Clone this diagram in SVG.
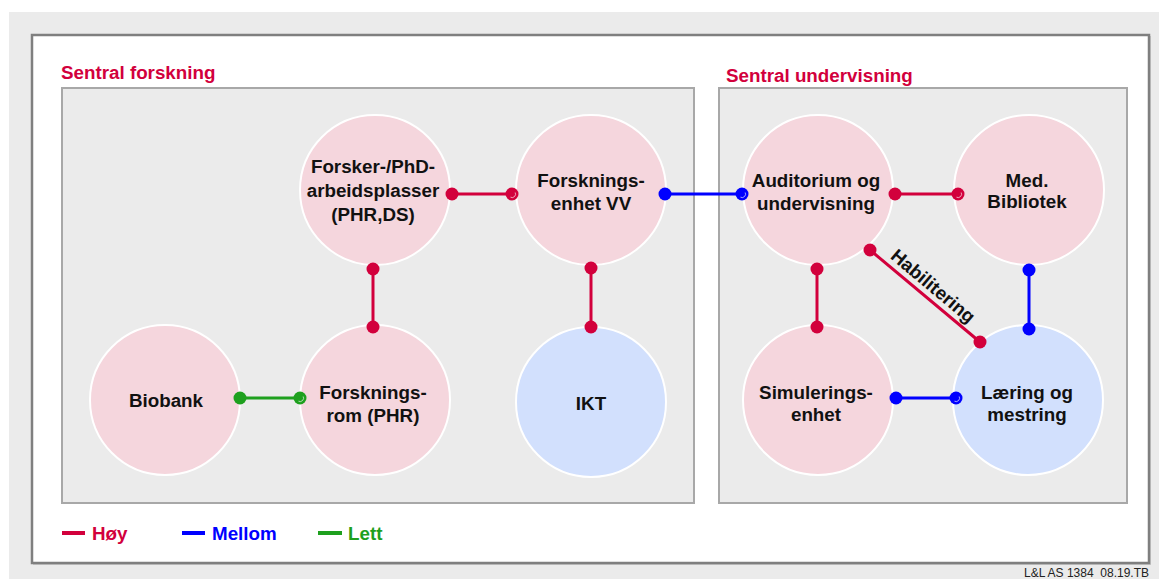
<svg xmlns="http://www.w3.org/2000/svg" width="1159" height="579" viewBox="0 0 1159 579">
<style>
.t{font-family:"Liberation Sans",Arial,sans-serif;font-weight:bold;font-size:18.8px;fill:#111;text-anchor:middle}
.title{font-family:"Liberation Sans",Arial,sans-serif;font-weight:bold;font-size:18.8px;fill:#d2003c}
.pink{fill:#f5d6dd;stroke:#fff;stroke-width:2}
.blue{fill:#d2e0fd;stroke:#fff;stroke-width:2}
.box{fill:#ebebeb;stroke:#a8a8a8;stroke-width:2}
.r{stroke:#d2003c;stroke-width:3;fill:none}
.b{stroke:#0000ff;stroke-width:3;fill:none}
.g{stroke:#1ea01e;stroke-width:3;fill:none}
.dr{fill:#d2003c}.db{fill:#0000ff}.dg{fill:#1ea01e}
.hl{fill:none;stroke:#fff;stroke-width:0.8;opacity:0.8}
</style>
<defs>
<g id="hi"><path class="hl" d="M3.2,-1.5 A3.5,3.5 0 0 1 -1.5,3.2"/></g>
</defs>
<rect x="0" y="0" width="1159" height="579" fill="#fff"/>
<rect x="9" y="12" width="1150" height="567" fill="#ebebeb"/>
<rect x="33" y="36" width="1118" height="529" fill="#c8c8c8"/>
<rect x="32" y="35" width="1117" height="528" fill="#fff" stroke="#7f7f7f" stroke-width="2.5"/>

<g id="group-forskning">
<text class="title" x="61" y="79">Sentral forskning</text>
<rect class="box" x="62" y="88" width="632" height="415"/>
</g>
<g id="group-undervisning">
<text class="title" x="726" y="82">Sentral undervisning</text>
<rect class="box" x="719" y="88" width="408" height="415"/>
</g>

<g id="n-forsker"><circle class="pink" cx="375" cy="190" r="75"/>
<text class="t" x="373" y="173">Forsker-/PhD-</text><text class="t" x="373" y="197">arbeidsplasser</text><text class="t" x="373" y="221">(PHR,DS)</text></g>
<g id="n-fvv"><circle class="pink" cx="591" cy="190" r="75"/>
<text class="t" x="591" y="187">Forsknings-</text><text class="t" x="591" y="210">enhet VV</text></g>
<g id="n-auditorium"><circle class="pink" cx="818" cy="190" r="75"/>
<text class="t" x="816" y="187">Auditorium og</text><text class="t" x="816" y="210">undervisning</text></g>
<g id="n-med"><circle class="pink" cx="1029" cy="190" r="75"/>
<text class="t" x="1027" y="187">Med.</text><text class="t" x="1027" y="208">Bibliotek</text></g>
<g id="n-biobank"><circle class="pink" cx="165" cy="400" r="75"/>
<text class="t" x="166" y="407">Biobank</text></g>
<g id="n-from"><circle class="pink" cx="375" cy="400" r="75"/>
<text class="t" x="373" y="399">Forsknings-</text><text class="t" x="373" y="422">rom (PHR)</text></g>
<g id="n-ikt"><circle class="blue" cx="591" cy="402" r="75"/>
<text class="t" x="591" y="410">IKT</text></g>
<g id="n-sim"><circle class="pink" cx="818" cy="400" r="75"/>
<text class="t" x="816" y="399">Simulerings-</text><text class="t" x="816" y="421">enhet</text></g>
<g id="n-laering"><circle class="blue" cx="1028" cy="400" r="75"/>
<text class="t" x="1027" y="399">Læring og</text><text class="t" x="1027" y="421">mestring</text></g>

<g id="connectors">
<line class="r" x1="452" y1="194" x2="512" y2="194"/>
<circle class="dr" cx="452" cy="194" r="6.5"/><circle class="dr" cx="512" cy="194" r="6.5"/><use href="#hi" x="512" y="194"/>
<line class="b" x1="665" y1="194" x2="742" y2="194"/>
<circle class="db" cx="665" cy="194" r="6.5"/><circle class="db" cx="742" cy="194" r="6.5"/><use href="#hi" x="742" y="194"/>
<line class="r" x1="895" y1="194" x2="958" y2="194"/>
<circle class="dr" cx="895" cy="194" r="6.5"/><circle class="dr" cx="958" cy="194" r="6.5"/><use href="#hi" x="958" y="194"/>
<line class="r" x1="373" y1="269" x2="373" y2="327"/>
<circle class="dr" cx="373" cy="269" r="6.5"/><circle class="dr" cx="373" cy="327" r="6.5"/>
<line class="r" x1="591" y1="268" x2="591" y2="327"/>
<circle class="dr" cx="591" cy="268" r="6.5"/><circle class="dr" cx="591" cy="327" r="6.5"/>
<line class="r" x1="817" y1="269" x2="817" y2="327"/>
<circle class="dr" cx="817" cy="269" r="6.5"/><circle class="dr" cx="817" cy="327" r="6.5"/>
<line class="b" x1="1029" y1="270" x2="1029" y2="329"/>
<circle class="db" cx="1029" cy="270" r="6.5"/><circle class="db" cx="1029" cy="329" r="6.5"/>
<line class="g" x1="240" y1="398" x2="300" y2="398"/>
<circle class="dg" cx="240" cy="398" r="6.5"/><circle class="dg" cx="300" cy="398" r="6.5"/><use href="#hi" x="300" y="398"/>
<line class="b" x1="896" y1="398" x2="956" y2="398"/>
<circle class="db" cx="896" cy="398" r="6.5"/><circle class="db" cx="956" cy="398" r="6.5"/><use href="#hi" x="956" y="398"/>
<line class="r" x1="870" y1="250" x2="980" y2="342"/>
<circle class="dr" cx="870" cy="250" r="6.5"/><circle class="dr" cx="980" cy="342" r="6.5"/>
<text class="t" x="0" y="0" transform="translate(929,291) rotate(40)">Habilitering</text>
</g>

<g id="legend">
<line x1="62" y1="533" x2="85" y2="533" stroke="#d2003c" stroke-width="4"/>
<text class="title" x="92" y="540">Høy</text>
<line x1="182" y1="533" x2="205" y2="533" stroke="#0000ff" stroke-width="4"/>
<text class="title" x="212" y="540" style="fill:#0000ff">Mellom</text>
<line x1="318" y1="533" x2="342" y2="533" stroke="#1ea01e" stroke-width="4"/>
<text class="title" x="348" y="540" style="fill:#1ea01e">Lett</text>
</g>
<text x="1149" y="577" text-anchor="end" font-family="'Liberation Sans',Arial,sans-serif" font-size="12" fill="#222" xml:space="preserve">L&amp;L AS 1384  08.19.TB</text>
</svg>
